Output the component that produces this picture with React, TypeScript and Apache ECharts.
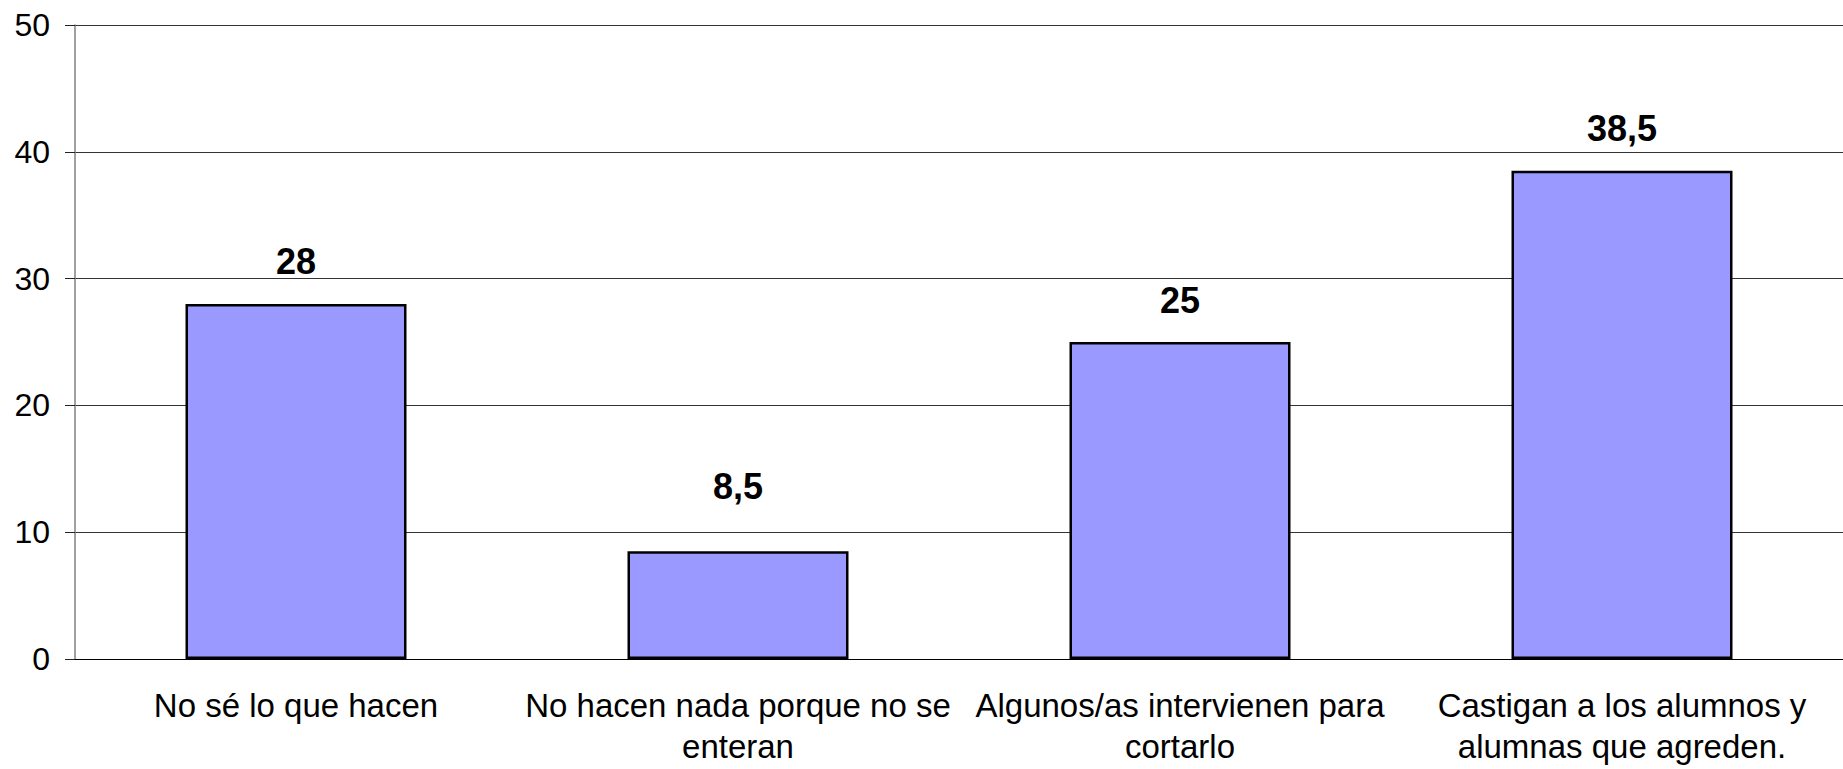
import React, { useEffect, useRef } from "react";
import * as echarts from "echarts";

const categories = [
  "No sé lo que hacen",
  "No hacen nada porque no se\nenteran",
  "Algunos/as intervienen para\ncortarlo",
  "Castigan a los alumnos y\nalumnas que agreden.",
];
const values = [28, 8.5, 25, 38.5];
const labelDistances = [24, 47, 24, 24];
const yTicks = { min: 0, max: 50, interval: 10 };

const FONT = "'Liberation Sans', Arial, sans-serif";

export default function App() {
  const ref = useRef<HTMLDivElement>(null);
  useEffect(() => {
    if (!ref.current) return;
    const chart = echarts.init(ref.current, undefined, { renderer: "svg" });
    chart.setOption({
      animation: false,
      backgroundColor: "#ffffff",
      grid: {
        left: 75,
        right: 0,
        top: 25,
        bottom: 110,
        containLabel: false,
        outerBoundsMode: "none",
      },
      xAxis: {
        type: "category",
        data: categories,
        axisLine: { show: true, lineStyle: { color: "#000", width: 1 } },
        axisTick: { show: false },
        axisLabel: {
          color: "#000",
          fontSize: 33,
          lineHeight: 41,
          margin: 26,
          fontFamily: FONT,
          interval: 0,
        },
      },
      yAxis: {
        type: "value",
        min: yTicks.min,
        max: yTicks.max,
        interval: yTicks.interval,
        axisLine: { show: true, lineStyle: { color: "#808080", width: 1.5 } },
        axisTick: { show: true, length: 10, lineStyle: { color: "#222", width: 1 } },
        axisLabel: { color: "#000", fontSize: 32, margin: 25, fontFamily: FONT },
        splitLine: { show: true, lineStyle: { color: "#333", width: 1 } },
      },
      series: [
        {
          type: "bar",
          data: values.map((v, i) => ({
            value: v,
            label: { distance: labelDistances[i] },
          })),
          barCategoryGap: "50%",
          itemStyle: { color: "#9999FF", borderColor: "#000", borderWidth: 2.5 },
          label: {
            show: true,
            position: "top",
            color: "#000",
            fontWeight: "bold",
            fontSize: 36,
            fontFamily: FONT,
            formatter: (p: any) => String(p.value).replace(".", ","),
          },
        },
      ],
    });
    return () => chart.dispose();
  }, []);
  return (
    <div
      ref={ref}
      style={{ position: "fixed", left: 0, top: 0, width: 1843, height: 769, background: "#fff" }}
    />
  );
}
